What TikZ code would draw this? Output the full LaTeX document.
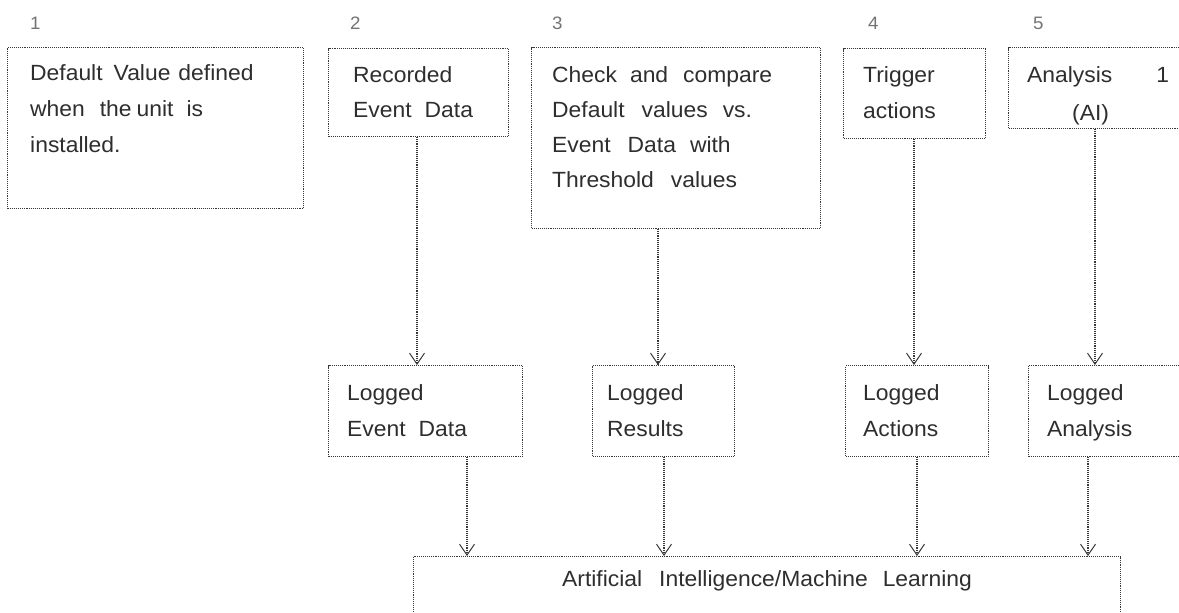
\documentclass[tikz,border=0pt]{standalone}
\usepackage{fontspec}
\setmainfont[FakeStretch=1.04]{Liberation Sans}
\usetikzlibrary{arrows.meta}
\newcommand\wsp[1]{\hspace{#1pt}}
\tikzset{
  box/.style={draw=black!78, densely dotted, line width=1.1pt, inner sep=0pt, anchor=north west},
  txt/.style={anchor=base west, inner sep=0pt, text=black!82, font=\fontsize{22}{26}\selectfont},
  num/.style={anchor=base west, inner sep=0pt, text=black!55, font=\fontsize{18}{22}\selectfont},
  flow/.style={draw=black!78, densely dotted, line width=1.1pt,
    -{Straight Barb[length=11pt,width=15pt,line width=1pt]}}
}
\begin{document}
\begin{tikzpicture}[x=1pt,y=-1pt]
\useasboundingbox (0,0) rectangle (1179,613);
\clip (0,0) rectangle (1179,613);

% column numbers
\node[num] (n1) at (30,30) {1};
\node[num] (n2) at (350,30) {2};
\node[num] (n3) at (552,30) {3};
\node[num] (n4) at (868,30) {4};
\node[num] (n5) at (1033,30) {5};

% top row of boxes
\node[box, minimum width=296pt, minimum height=161pt] (b1) at (7,47) {};
\node[box, minimum width=180pt, minimum height=88pt] (b2) at (328,48) {};
\node[box, minimum width=289pt, minimum height=181pt] (b3) at (531,47) {};
\node[box, minimum width=142pt, minimum height=90pt] (b4) at (843,48) {};
\node[box, minimum width=220pt, minimum height=81pt] (b5) at (1008,47) {};

% logged results
\node[box, minimum width=194pt, minimum height=91pt] (l1) at (328,365) {};
\node[box, minimum width=142pt, minimum height=91pt] (l2) at (592,365) {};
\node[box, minimum width=143pt, minimum height=91pt] (l3) at (845,365) {};
\node[box, minimum width=200pt, minimum height=91pt] (l4) at (1028,365) {};

% learning stage
\node[box, minimum width=707pt, minimum height=100pt] (ai) at (413,556) {};

% box texts
\node[txt] (t1a) at (30,80) {Default\wsp{11}Value\wsp{8}defined};
\node[txt] (t1b) at (30,116) {when\wsp{15}the\wsp{5}unit\wsp{13}is};
\node[txt] (t1c) at (30,152) {installed.};

\node[txt] (t2a) at (353,82) {Recorded};
\node[txt] (t2b) at (353,117) {Event\wsp{13}Data};

\node[txt] (t3a) at (552,82) {Check\wsp{13}and\wsp{15}compare};
\node[txt] (t3b) at (552,117) {Default\wsp{17}values\wsp{15}vs.};
\node[txt] (t3c) at (552,152) {Event\wsp{17}Data\wsp{14}with};
\node[txt] (t3d) at (552,187) {Threshold\wsp{17}values};

\node[txt] (t4a) at (863,82) {Trigger};
\node[txt] (t4b) at (863,118) {actions};

\node[txt] (t5a) at (1027,82) {Analysis\wsp{44}1};
\node[txt] (t5b) at (1072,120) {(AI)};

\node[txt] (u1a) at (347,400) {Logged};
\node[txt] (u1b) at (347,436) {Event\wsp{13}Data};
\node[txt] (u2a) at (607,400) {Logged};
\node[txt] (u2b) at (607,436) {Results};
\node[txt] (u3a) at (863,400) {Logged};
\node[txt] (u3b) at (863,436) {Actions};
\node[txt] (u4a) at (1047,400) {Logged};
\node[txt] (u4b) at (1047,436) {Analysis};

\node[txt, anchor=base] (tai) at (767,586) {Artificial\wsp{17}Intelligence/Machine\wsp{15}Learning};

% connector columns
\coordinate (c2) at (417,0);
\coordinate (c3) at (658,0);
\coordinate (c4) at (914,0);
\coordinate (c5) at (1095,0);
\coordinate (d1) at (467,0);
\coordinate (d2) at (664,0);
\coordinate (d3) at (917,0);
\coordinate (d4) at (1088,0);

\draw[flow] (b2.south -| c2) -- (l1.north -| c2);
\draw[flow] (b3.south -| c3) -- (l2.north -| c3);
\draw[flow] (b4.south -| c4) -- (l3.north -| c4);
\draw[flow] (b5.south -| c5) -- (l4.north -| c5);

\draw[flow] (l1.south -| d1) -- (ai.north -| d1);
\draw[flow] (l2.south -| d2) -- (ai.north -| d2);
\draw[flow] (l3.south -| d3) -- (ai.north -| d3);
\draw[flow] (l4.south -| d4) -- (ai.north -| d4);
\end{tikzpicture}
\end{document}
